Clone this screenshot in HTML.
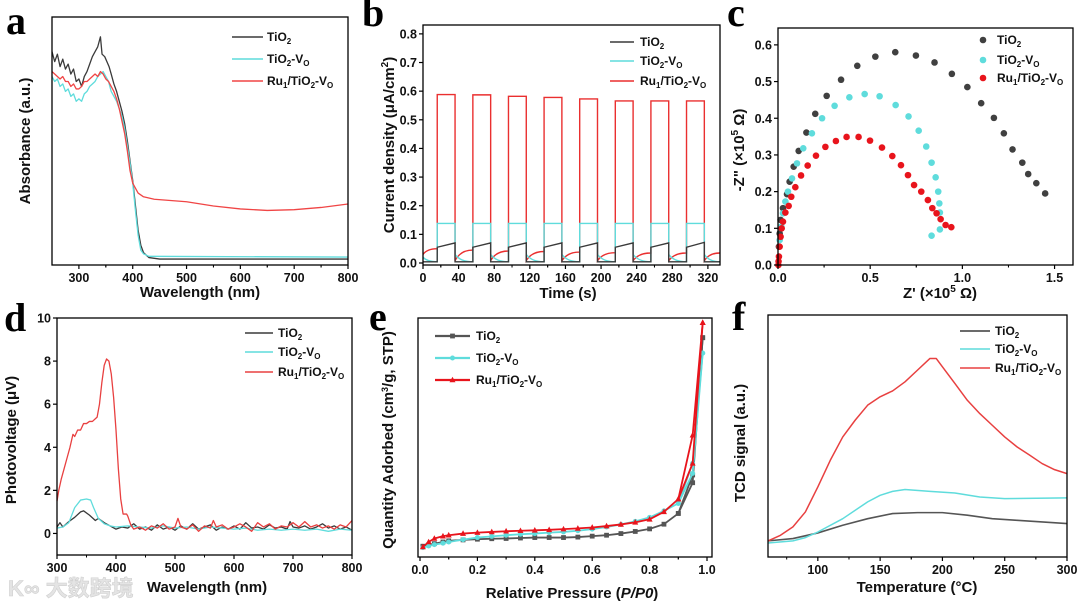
<!DOCTYPE html>
<html><head><meta charset="utf-8"><style>
html,body{margin:0;padding:0;background:#fff;}
svg{display:block;font-family:"Liberation Sans",sans-serif;}
.tk{font-size:12.5px;font-weight:bold;fill:#111;}
.at{font-size:15px;font-weight:bold;fill:#111;}
.lg{font-size:12px;font-weight:bold;fill:#111;}
.pl{font-family:"Liberation Serif",serif;font-size:40px;font-weight:bold;fill:#000;}
</style></head><body>
<svg id="fig" width="1080" height="604" viewBox="0 0 1080 604">
<text class="pl" x="6" y="34">a</text>
<text class="pl" x="362" y="26">b</text>
<text class="pl" x="727" y="26">c</text>
<text class="pl" x="4" y="331">d</text>
<text class="pl" x="369" y="330">e</text>
<text class="pl" x="732" y="330">f</text>
<text x="8" y="596" font-size="22" font-weight="bold" fill="#e4e4e4" stroke="#d0d0d0" stroke-width="0.6" font-family="'Liberation Sans','Noto Sans CJK SC',sans-serif">K∞ 大数跨境</text>
</svg>
<script>
// ---------- panel a data ----------
const aBlackX=[250,255,260,265,270,275,280,285,290,295,300,305,310,315,320,325,330,335,340,343,348,352,356,360,365,370,375,380,385,390,395,400,405,410,415,420,430,450,800];
const aBlackY=[86,82,85,80,83,79,81,77,79,74,75,72,76,78,81,84,86,88,92,85,84,82,80,77,73,70,66,62,57,50,42,34,24,14,8,5,3,2.4,2.4];
const aCyanX=[250,255,260,265,270,275,280,285,290,295,300,305,310,315,320,325,330,335,340,345,350,355,360,365,370,375,380,385,390,395,400,405,410,415,420,430,800];
const aCyanY=[76,74,75,72,73,70,71,68,69,66,67,66,69,70,72,73,74,76,77,78,76,74,70,68,66,63,60,55,48,41,33,22,12,6,4.5,3.5,3.2];
const aRedX=[250,255,260,265,270,275,280,285,290,295,300,305,310,315,320,325,330,335,340,345,350,355,360,365,370,375,380,385,390,395,400,410,420,440,500,550,600,650,700,750,800];
const aRedY=[78,77,76,75,76,74,74,72,73,71,71,72,74,74,75,76,77,76,78,77,75,74,72,70,67,63,58,53,46,38,33,29,27.5,26.5,25.5,23.8,22.6,22,22.3,23.2,24.6];
const aTicks=[300,400,500,600,700,800];
// ---------- panel b data ----------
const bOnTimes=[16,56,96,136,176,216,256,296];
const bOnDur=20;
const bRedOn=[0.588,0.587,0.582,0.578,0.573,0.566,0.566,0.566];
const bRedOffStart=[0.03,0.008,0.008,0.008,0.008,0.008,0.008,0.008,0.008];
const bRedOffEnd=[0.05,0.045,0.042,0.04,0.038,0.036,0.035,0.035,0.035];
const bCyanOn=[0.138,0.138,0.138,0.138,0.138,0.138,0.138,0.138];
const bCyanOffStart=[0.02,0.03,0.03,0.03,0.03,0.03,0.03,0.03,0.03];
const bCyanOffEnd=[0.004,0.004,0.004,0.004,0.004,0.004,0.004,0.004,0.004];
const bBlackOnStart=[0.055,0.055,0.055,0.055,0.055,0.055,0.055,0.055];
const bBlackOnEnd=[0.07,0.07,0.07,0.07,0.07,0.07,0.07,0.072];
const bBlackOff=[0.004,0.004,0.004,0.004,0.004,0.004,0.004,0.004,0.004];
const bXTicks=[0,40,80,120,160,200,240,280,320];
const bYTicks=[0,0.1,0.2,0.3,0.4,0.5,0.6,0.7,0.8];
// ---------- panel c data ----------
const cBlackX=[0.005,0.009,0.014,0.027,0.049,0.063,0.085,0.112,0.154,0.202,0.264,0.342,0.430,0.528,0.636,0.748,0.849,0.943,1.027,1.102,1.171,1.225,1.272,1.325,1.357,1.401,1.449];
const cBlackY=[0.05,0.086,0.123,0.155,0.193,0.227,0.268,0.311,0.361,0.412,0.461,0.505,0.543,0.568,0.580,0.571,0.552,0.521,0.485,0.441,0.401,0.359,0.315,0.279,0.248,0.223,0.195];
const cCyanX=[0.009,0.018,0.027,0.04,0.054,0.076,0.103,0.137,0.184,0.239,0.307,0.387,0.47,0.551,0.638,0.708,0.763,0.804,0.833,0.855,0.869,0.875,0.878,0.878,0.833];
const cCyanY=[0.068,0.105,0.141,0.173,0.2,0.236,0.277,0.318,0.359,0.4,0.434,0.457,0.466,0.46,0.436,0.405,0.366,0.323,0.279,0.239,0.2,0.168,0.143,0.097,0.08];
const cRedX=[0.002,0.003,0.005,0.009,0.014,0.02,0.027,0.04,0.058,0.072,0.094,0.125,0.161,0.206,0.257,0.314,0.372,0.437,0.499,0.564,0.62,0.667,0.705,0.738,0.777,0.813,0.837,0.86,0.882,0.909,0.94];
const cRedY=[0.0,0.01,0.023,0.05,0.077,0.1,0.118,0.143,0.161,0.186,0.212,0.244,0.271,0.298,0.322,0.338,0.349,0.349,0.339,0.32,0.297,0.272,0.245,0.218,0.2,0.177,0.155,0.141,0.125,0.109,0.103];
const cXTicks=[0,0.5,1.0,1.5];
const cYTicks=[0,0.1,0.2,0.3,0.4,0.5,0.6];
// ---------- panel d data ----------
const dRedX=[300,303,307,312,318,322,327,330,335,340,345,350,355,360,368,372,376,380,384,388,392,396,400,404,408,412,418,420,425,430,440,450,460,470,480,490,500,505,510,520,530,540,550,560,565,570,580,590,600,610,620,630,640,650,660,670,680,690,700,710,720,730,740,750,760,770,780,790,800];
const dRedY=[1.5,2.0,2.5,3.0,3.6,4.0,4.6,4.5,4.8,4.8,5.1,5.1,5.2,5.2,5.4,6.0,7.0,7.8,8.1,8.0,7.4,6.3,4.8,3.0,1.6,0.9,0.9,0.8,0.4,0.2,0.3,0.15,0.35,0.25,0.45,0.2,0.3,0.7,0.3,0.2,0.4,0.1,0.35,0.25,0.6,0.3,0.4,0.2,0.3,0.45,0.3,0.1,0.5,0.3,0.45,0.2,0.35,0.3,0.5,0.3,0.55,0.3,0.4,0.25,0.35,0.2,0.4,0.3,0.6];
const dBlackX=[300,305,310,320,330,340,345,355,365,370,380,390,400,410,420,430,440,450,460,470,480,490,500,510,520,530,540,550,560,570,580,590,600,610,620,630,640,650,660,670,680,690,695,700,710,720,730,740,750,760,770,780,790,800];
const dBlackY=[0.3,0.5,0.3,0.55,0.75,1.0,1.05,0.85,0.6,0.7,0.5,0.35,0.2,0.3,0.25,0.45,0.2,0.3,0.15,0.4,0.2,0.3,0.15,0.35,0.2,0.45,0.2,0.3,0.4,0.15,0.3,0.2,0.35,0.2,0.5,0.25,0.3,0.2,0.4,0.25,0.3,0.2,0.55,0.3,0.25,0.35,0.2,0.3,0.45,0.25,0.35,0.2,0.3,0.15];
const dCyanX=[300,310,320,330,340,350,357,362,370,380,390,400,420,440,460,480,500,520,540,560,580,600,620,640,660,680,700,720,740,760,780,800];
const dCyanY=[0.25,0.3,0.5,1.2,1.55,1.6,1.55,1.2,0.7,0.45,0.35,0.3,0.35,0.3,0.25,0.35,0.25,0.3,0.2,0.3,0.25,0.2,0.25,0.15,0.2,0.15,0.2,0.15,0.2,0.1,0.2,0.15];
const dXTicks=[300,400,500,600,700,800];
const dYTicks=[0,2,4,6,8,10];
// ---------- panel e data ----------
const ePressure=[0.01,0.03,0.05,0.08,0.1,0.15,0.2,0.25,0.3,0.35,0.4,0.45,0.5,0.55,0.6,0.65,0.7,0.75,0.8,0.85,0.9,0.95,0.985];
const eBlack=[4.6,5.2,5.7,6.4,6.9,7.3,7.6,7.8,7.9,8.1,8.3,8.3,8.3,8.5,8.9,9.3,10,10.9,12,14,18.6,31.7,93.6];
const eCyan=[4.0,4.7,5.3,5.9,6.4,7.4,8.3,8.8,9.3,9.7,10,10.4,10.7,11.2,11.9,12.8,13.9,15.2,16.9,19.7,22.9,35.7,87];
const eRed=[4.3,6.4,7.9,8.9,9.3,10,10.4,10.7,11,11.2,11.4,11.6,11.9,12.2,12.6,13.2,13.9,14.8,16.1,19.3,24.7,40,100];
const eDesPressure=[0.985,0.95,0.9];
const eRedDes=[100,52,24.7];
const eCyanDes=[87,40,22.9];
const eBlackDes=[93.6,35,18.6];
const eXTicks=[0,0.2,0.4,0.6,0.8,1.0];
// ---------- panel f data ----------
const fRedX=[60,70,80,90,100,110,120,130,140,150,160,170,180,190,195,200,210,220,230,240,250,260,270,280,290,300];
const fRedY=[6.9,9.3,12.9,19.3,30,41.4,51.4,58.6,65,68.6,71.1,75,80,85,85,81.4,74.3,67.1,61.4,56.4,51.4,47.1,43.6,40,37.4,35.7];
const fCyanX=[60,80,90,100,120,140,150,160,170,190,210,230,250,300];
const fCyanY=[6,6.9,8.3,10.7,16.4,23.6,26.4,28.1,28.9,28.1,27.4,25.7,25,25.3];
const fBlackX=[60,80,100,120,140,160,180,200,220,240,260,280,300];
const fBlackY=[6.9,7.9,10.3,13.6,16.4,18.6,19,19,17.9,16.4,15.7,15,14.3];
const fXTicks=[100,150,200,250,300];

const NS='http://www.w3.org/2000/svg';
const svg=document.getElementById('fig');
function el(tag,parent){const e=document.createElementNS(NS,tag);(parent||svg).appendChild(e);return e;}
function sc(d0,d1,r0,r1){return v=>r0+(v-d0)/(d1-d0)*(r1-r0);}
const BLK='#3a3a3a',CYN='#5fdcdc',RED='#ea2f2f';

function frame(x0,y0,x1,y1,name){
  const r=el('rect');r.setAttribute('x',x0);r.setAttribute('y',y0);r.setAttribute('width',x1-x0);r.setAttribute('height',y1-y0);
  r.setAttribute('fill','none');r.setAttribute('stroke','#000');r.setAttribute('stroke-width','1.3');
  
  
}
function xticks(vals,sx,yb,fmt,minorStep,xmin,xmax,name){
  const g=el('g');
  
  
  vals.forEach(v=>{
    const l=el('line',g);l.setAttribute('x1',sx(v));l.setAttribute('x2',sx(v));l.setAttribute('y1',yb);l.setAttribute('y2',yb+4);l.setAttribute('stroke','#000');l.setAttribute('stroke-width','1.2');
    const t=el('text',g);t.setAttribute('class','tk');t.setAttribute('x',sx(v));t.setAttribute('y',yb+17);t.setAttribute('text-anchor','middle');t.textContent=fmt(v);
    if(minorStep){[v-minorStep,v+minorStep].forEach(mv=>{const mx=sx(mv);if(mx>xmin+1&&mx<xmax-1){const m=el('line',g);m.setAttribute('x1',mx);m.setAttribute('x2',mx);m.setAttribute('y1',yb);m.setAttribute('y2',yb+2.5);m.setAttribute('stroke','#000');}});}
  });
}
function yticks(vals,sy,xl,fmt,name){
  const g=el('g');
  
  
  vals.forEach(v=>{
    const l=el('line',g);l.setAttribute('x1',xl-4);l.setAttribute('x2',xl);l.setAttribute('y1',sy(v));l.setAttribute('y2',sy(v));l.setAttribute('stroke','#000');l.setAttribute('stroke-width','1.2');
    const t=el('text',g);t.setAttribute('class','tk');t.setAttribute('x',xl-6);t.setAttribute('y',sy(v)+4.5);t.setAttribute('text-anchor','end');t.textContent=fmt(v);
  });
}
function title(txt,x,y,rot,name){
  const t=el('text');t.setAttribute('class','at');t.setAttribute('text-anchor','middle');
  if(rot){t.setAttribute('transform','translate('+x+','+y+') rotate(-90)');}else{t.setAttribute('x',x);t.setAttribute('y',y);}
  t.innerHTML=txt;
  
  
}
function line(xs,ys,sx,sy,color,w,name){
  const p=el('path');let d='';
  xs.forEach((x,i)=>{d+=(i?'L':'M')+sx(x).toFixed(2)+','+sy(ys[i]).toFixed(2);});
  p.setAttribute('d',d);p.setAttribute('fill','none');p.setAttribute('stroke',color);p.setAttribute('stroke-width',w||1.3);p.setAttribute('stroke-linejoin','round');
  
  
  return p;
}
const LBL=['TiO<tspan font-size="8" dy="3">2</tspan>','TiO<tspan font-size="8" dy="3">2</tspan><tspan dy="-3">-V</tspan><tspan font-size="8" dy="3">O</tspan>','Ru<tspan font-size="8" dy="3">1</tspan><tspan dy="-3">/TiO</tspan><tspan font-size="8" dy="3">2</tspan><tspan dy="-3">-V</tspan><tspan font-size="8" dy="3">O</tspan>'];
function legend(x0,x1,tx,ys,colors,kind,name){
  const g=el('g');
  
  
  ys.forEach((y,i)=>{
    if(kind==='dot'){const c=el('circle',g);c.setAttribute('cx',x0);c.setAttribute('cy',y);c.setAttribute('r',3.3);c.setAttribute('fill',colors[i]);}
    else{const l=el('line',g);l.setAttribute('x1',x0);l.setAttribute('x2',x1);l.setAttribute('y1',y);l.setAttribute('y2',y);l.setAttribute('stroke',colors[i]);l.setAttribute('stroke-width',kind==='mk'?2.2:1.6);
      if(kind==='mk')marker((x0+x1)/2,y,i,colors[i],g);}
    const t=el('text',g);t.setAttribute('class','lg');t.setAttribute('x',tx);t.setAttribute('y',y+4);t.innerHTML=LBL[i];
  });
}
function marker(x,y,k,color,parent){
  let m;
  if(k===0){m=el('rect',parent);m.setAttribute('x',x-2.4);m.setAttribute('y',y-2.4);m.setAttribute('width',4.8);m.setAttribute('height',4.8);}
  else if(k===1){m=el('circle',parent);m.setAttribute('cx',x);m.setAttribute('cy',y);m.setAttribute('r',2.5);}
  else{m=el('polygon',parent);m.setAttribute('points',(x)+','+(y-3.3)+' '+(x-3)+','+(y+2.3)+' '+(x+3)+','+(y+2.3));}
  m.setAttribute('fill',color);
  return m;
}

// ===== Panel a =====
{const sx=sc(250,800,52,348),sy=sc(0,100,265,17);
line(aBlackX,aBlackY,sx,sy,BLK,1.3,'tio2-absorbance-line');
line(aCyanX,aCyanY,sx,sy,CYN,1.3,'tio2-vo-absorbance-line');
line(aRedX,aRedY,sx,sy,'#f04545',1.3,'ru-absorbance-line');
frame(52,17,348,265,'plot-frame-a');
xticks(aTicks,sx,265,v=>v,50,52,348,'x-axis-a');
title('Wavelength (nm)',200,297,false,'x-axis-title-a');
title('Absorbance (a.u.)',30,141,true,'y-axis-title-a');
legend(232,263,267,[37,59,81],[BLK,CYN,'#f04545'],'line','legend-a');}

// ===== Panel b =====
{const sx=sc(0,333.6,423,720),sy=sc(-0.007,0.831,265,25);
function square(onV,onV2,offS,offE,color,name,curve){
  const p=el('path');let d='M'+sx(0)+','+sy(offS[0]);let t=0;
  for(let i=0;i<=bOnTimes.length;i++){
    const tEnd=i<bOnTimes.length?bOnTimes[i]:333.6;
    const cx=sx(t+(tEnd-t)*curve),cy=sy(offE[i]);
    d+='Q'+cx.toFixed(1)+','+cy.toFixed(1)+' '+sx(tEnd).toFixed(1)+','+sy(offE[i]).toFixed(1);
    if(i<bOnTimes.length){
      const t0=bOnTimes[i],t1=t0+bOnDur;
      d+='L'+sx(t0)+','+sy(onV[i])+'L'+sx(t1)+','+sy(onV2[i])+'L'+sx(t1)+','+sy(offS[i+1]);
      t=t1;
    }
  }
  p.setAttribute('d',d);p.setAttribute('fill','none');p.setAttribute('stroke',color);p.setAttribute('stroke-width','1.4');
  
  
}
square(bRedOn,bRedOn,bRedOffStart,bRedOffEnd,RED,'ru-photocurrent-line',0.3);
square(bCyanOn,bCyanOn,bCyanOffStart,bCyanOffEnd,CYN,'tio2-vo-photocurrent-line',0.3);
square(bBlackOnStart,bBlackOnEnd,bBlackOff,bBlackOff,BLK,'tio2-photocurrent-line',0.5);
frame(423,25,720,265,'plot-frame-b');
xticks(bXTicks,sx,265,v=>v,20,423,720,'x-axis-b');
yticks(bYTicks,sy,423,v=>v.toFixed(1),'y-axis-b');
title('Time (s)',568,298,false,'x-axis-title-b');
title('Current density (μA/cm<tspan font-size="10" dy="-6">2</tspan><tspan dy="6">)</tspan>',394,145,true,'y-axis-title-b');
legend(610,634,640,[42,61,81],[BLK,CYN,RED],'line','legend-b');}

// ===== Panel c =====
{const sx=sc(0,1.6,778,1073),sy=sc(0,0.646,265,28);
function dots(xs,ys,color,name){const g=el('g');
  
  
  xs.forEach((x,i)=>{const c=el('circle',g);c.setAttribute('cx',sx(x));c.setAttribute('cy',sy(ys[i]));c.setAttribute('r',3.3);c.setAttribute('fill',color);});}
dots(cBlackX,cBlackY,'#404040','tio2-nyquist-points');
dots(cCyanX,cCyanY,CYN,'tio2-vo-nyquist-points');
dots(cRedX,cRedY,'#e8141c','ru-nyquist-points');
frame(778,28,1073,265,'plot-frame-c');
xticks(cXTicks,sx,265,v=>v.toFixed(1),0.25,778,1073,'x-axis-c');
yticks(cYTicks,sy,778,v=>v.toFixed(1),'y-axis-c');
title("Z' (×10<tspan font-size='10' dy='-6'>5</tspan><tspan dy='6'> Ω)</tspan>",940,298,false,'x-axis-title-c');
title('-Z" (×10<tspan font-size="10" dy="-6">5</tspan><tspan dy="6"> Ω)</tspan>',744,150,true,'y-axis-title-c');
legend(983,0,997,[40,60,78],['#404040',CYN,'#e8141c'],'dot','legend-c');}

// ===== Panel d =====
{const sx=sc(300,800,57,352),sy=sc(-1,10,555,318);
line(dBlackX,dBlackY,sx,sy,BLK,1.3,'tio2-photovoltage-line');
line(dCyanX,dCyanY,sx,sy,CYN,1.3,'tio2-vo-photovoltage-line');
line(dRedX,dRedY,sx,sy,'#e84040',1.3,'ru-photovoltage-line');
frame(57,318,352,555,'plot-frame-d');
xticks(dXTicks,sx,555,v=>v,50,57,352,'x-axis-d');
yticks(dYTicks,sy,57,v=>v,'y-axis-d');
title('Wavelength (nm)',207,592,false,'x-axis-title-d');
title('Photovoltage (μV)',16,440,true,'y-axis-title-d');
legend(245,273,278,[333,352,372],[BLK,CYN,'#e84040'],'line','legend-d');}

// ===== Panel e =====
{const sx=sc(-0.007,1.0174,418,712),sy=sc(0,102,557,318);
const series=[[eBlack,eBlackDes,'#555555','tio2'],[eCyan,eCyanDes,CYN,'tio2-vo'],[eRed,eRedDes,'#e8141c','ru']];
series.forEach((s,k)=>{
  line(ePressure,s[0],sx,sy,s[2],1.8,s[3]+'-adsorption-line');
  line(eDesPressure,s[1],sx,sy,s[2],1.8,s[3]+'-desorption-line');
  const g=el('g');
  
  
  ePressure.forEach((p,i)=>marker(sx(p),sy(s[0][i]),k,s[2],g));
  eDesPressure.forEach((p,i)=>marker(sx(p),sy(s[1][i]),k,s[2],g));
});
frame(418,318,712,557,'plot-frame-e');
xticks(eXTicks,sx,557,v=>v.toFixed(1),0.1,418,712,'x-axis-e');
title('Relative Pressure (<tspan font-style="italic">P/P</tspan><tspan font-style="italic">0</tspan>)',572,598,false,'x-axis-title-e');
title('Quantity Adorbed (cm<tspan font-size="9" dy="-5">3</tspan><tspan dy="5">/g, STP)</tspan>',393,440,true,'y-axis-title-e');
legend(435,470,476,[336,358,380],['#555555',CYN,'#e8141c'],'mk','legend-e');}

// ===== Panel f =====
{const sx=sc(60,300,768,1067),sy=sc(0,103.6,557,315);
line(fBlackX,fBlackY,sx,sy,'#555555',1.6,'tio2-tcd-line');
line(fCyanX,fCyanY,sx,sy,CYN,1.5,'tio2-vo-tcd-line');
line(fRedX,fRedY,sx,sy,'#e84040',1.5,'ru-tcd-line');
frame(768,315,1067,557,'plot-frame-f');
xticks(fXTicks,sx,557,v=>v,25,768,1067,'x-axis-f');
title('Temperature (°C)',917,592,false,'x-axis-title-f');
title('TCD signal (a.u.)',745,443,true,'y-axis-title-f');
legend(960,990,995,[331,349,368],[BLK,CYN,'#e84040'],'line','legend-f');}
</script>
</body></html>
